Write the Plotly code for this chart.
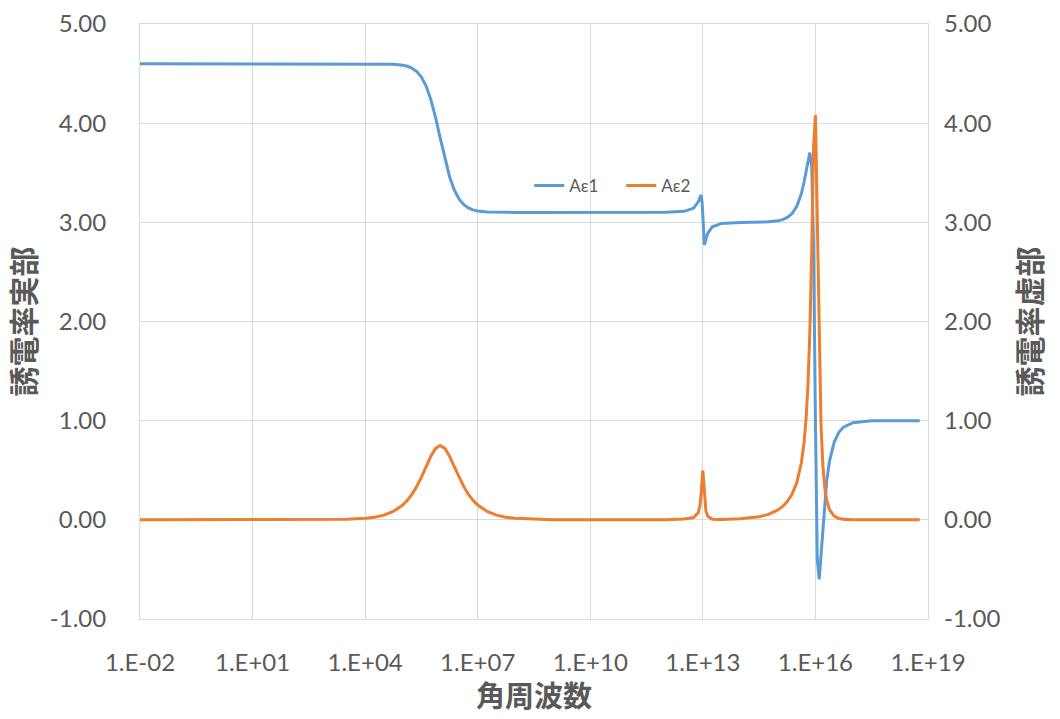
import plotly.graph_objects as go

# log10 of angular frequency
log_omega = [-2, 0, 2, 3, 3.5, 4, 4.25, 4.5, 4.75, 5, 5.125, 5.25, 5.375, 5.5, 5.625, 5.75,
             5.875, 6, 6.125, 6.25, 6.375, 6.5, 6.625, 6.75, 6.875, 7, 7.25, 7.5, 7.75, 8,
             8.5, 9, 10, 11, 12, 12.5, 12.75, 12.875, 12.92, 12.954, 12.98, 13, 13.02,
             13.041, 13.08, 13.125, 13.25, 13.5, 14, 14.5, 14.75, 15, 15.125, 15.25, 15.375,
             15.5, 15.625, 15.7, 15.75, 15.8, 15.85, 15.9, 15.95, 16, 16.05, 16.1, 16.15,
             16.2, 16.25, 16.3, 16.375, 16.5, 16.625, 16.75, 17, 17.5, 18, 18.78]

eps1 = [4.600, 4.600, 4.600, 4.600, 4.600, 4.600, 4.600, 4.598, 4.595, 4.585, 4.574, 4.554,
        4.520, 4.464, 4.374, 4.240, 4.060, 3.850, 3.640, 3.460, 3.327, 3.236, 3.180, 3.146,
        3.126, 3.115, 3.105, 3.102, 3.100, 3.100, 3.100, 3.100, 3.100, 3.100, 3.101, 3.111,
        3.142, 3.204, 3.251, 3.277, 3.199, 3.000, 2.819, 2.773, 2.826, 2.885, 2.955, 2.989,
        2.999, 3.002, 3.005, 3.015, 3.027, 3.049, 3.088, 3.158, 3.288, 3.412, 3.516, 3.629,
        3.703, 3.566, 2.765, 1.000, -0.402, -0.600, -0.354, -0.047, 0.204, 0.394, 0.593,
        0.784, 0.883, 0.935, 0.980, 0.998, 1.000, 1.000]

eps2 = [0.000, 0.000, 0.000, 0.002, 0.005, 0.015, 0.027, 0.047, 0.084, 0.149, 0.197, 0.259,
        0.337, 0.431, 0.537, 0.641, 0.720, 0.750, 0.720, 0.641, 0.537, 0.431, 0.337, 0.259,
        0.197, 0.149, 0.084, 0.047, 0.027, 0.015, 0.005, 0.002, 0.000, 0.000, 0.002, 0.008,
        0.023, 0.070, 0.136, 0.263, 0.432, 0.500, 0.394, 0.238, 0.094, 0.039, 0.007, 0.004,
        0.010, 0.031, 0.055, 0.100, 0.135, 0.184, 0.257, 0.372, 0.575, 0.791, 1.014, 1.351,
        1.880, 2.706, 3.748, 4.082, 2.977, 1.707, 0.942, 0.538, 0.321, 0.199, 0.102, 0.037,
        0.014, 0.006, 0.001, 0.000, 0.000, 0.000]

x_tick_exps = [-2, 1, 4, 7, 10, 13, 16, 19]
x_tick_text = ["1.E-02", "1.E+01", "1.E+04", "1.E+07", "1.E+10", "1.E+13", "1.E+16", "1.E+19"]
y_tick_vals = [-1, 0, 1, 2, 3, 4, 5]
y_tick_text = ["-1.00", "0.00", "1.00", "2.00", "3.00", "4.00", "5.00"]

series_names = ["A\u03b51", "A\u03b52"]
x_title = "角周波数"
y1_title = "誘電率実部"
y2_title = "誘電率虚部"

omega = [10 ** e for e in log_omega]
x_tick_vals = [10 ** e for e in x_tick_exps]

BLUE = "#5B9BD5"
ORANGE = "#ED7D31"
GRID = "#D9D9D9"
TXT = "#595959"
LAT = "Lato, 'Noto Sans', sans-serif"
CJK = "'Noto Sans CJK JP', 'Noto Sans CJK SC', sans-serif"

fig = go.Figure()
fig.add_trace(go.Scatter(x=omega, y=eps1, name=series_names[0], mode="lines",
                         line=dict(color=BLUE, width=3), yaxis="y"))
fig.add_trace(go.Scatter(x=omega, y=eps2, name=series_names[1], mode="lines",
                         line=dict(color=ORANGE, width=3), yaxis="y2"))

fig.update_layout(
    width=1060, height=719,
    margin=dict(l=140, r=132, t=24, b=100, autoexpand=False),
    paper_bgcolor="white", plot_bgcolor="white",
    font=dict(family=LAT, size=24, color=TXT),
    showlegend=True,
    legend=dict(orientation="h", x=0.494, xanchor="left", y=0.728, yanchor="middle",
                bgcolor="rgba(0,0,0,0)", font=dict(family=LAT, size=17, color=TXT),
                itemwidth=30, entrywidth=47, entrywidthmode="pixels", tracegroupgap=0),
    xaxis=dict(type="log", range=[-2, 19], tickvals=x_tick_vals, ticktext=x_tick_text,
               showgrid=True, gridcolor=GRID, gridwidth=1, zeroline=False,
               showline=True, linecolor=GRID, linewidth=1, mirror=True, ticks="",
               ticklabelstandoff=22, automargin=False,
               tickfont=dict(family=LAT, size=24, color=TXT)),
    yaxis=dict(range=[-1, 5], tickvals=y_tick_vals, ticktext=y_tick_text,
               showgrid=True, gridcolor=GRID, gridwidth=1, zeroline=False,
               showline=True, linecolor=GRID, linewidth=1, mirror=True, ticks="",
               ticklabelstandoff=28, automargin=False,
               tickfont=dict(family=LAT, size=24, color=TXT),
               title=dict(text=y1_title, standoff=10,
                          font=dict(family=CJK, size=30, color=TXT, weight="bold"))),
    yaxis2=dict(range=[-1, 5], tickvals=y_tick_vals, ticktext=y_tick_text,
                overlaying="y", side="right", showgrid=False, zeroline=False,
                showline=False, ticks="", ticklabelstandoff=15, automargin=False,
                tickfont=dict(family=LAT, size=24, color=TXT),
                title=dict(text=y2_title, standoff=20,
                           font=dict(family=CJK, size=30, color=TXT, weight="bold"))),
    annotations=[dict(text=x_title, xref="paper", yref="paper", x=0.5, y=-0.126,
                      xanchor="center", yanchor="middle", showarrow=False,
                      font=dict(family=CJK, size=29, color=TXT, weight="bold"))],
)

fig.write_html("out.html")
